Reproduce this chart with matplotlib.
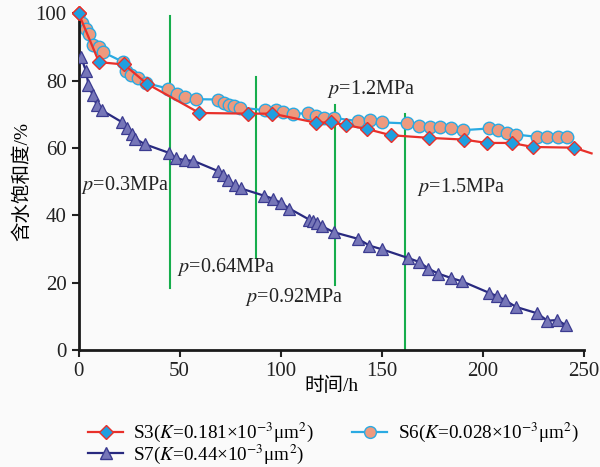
import matplotlib
matplotlib.use("Agg")
import matplotlib.pyplot as plt
from matplotlib.lines import Line2D

plt.rcParams["font.family"] = ["Liberation Serif", "Noto Sans CJK SC"]
plt.rcParams["mathtext.fontset"] = "stix"

# ── data ────────────────────────────────────────────────────────────────────
s3_t = [0, 10.1, 22.5, 33.8, 59.8, 84.1, 96.0, 117.6, 124.8, 132.4, 143.0,
        154.6, 173.7, 190.8, 202.0, 214.4, 224.9, 245.3, 254.0]
s3_sw = [100, 85.5, 84.8, 79.1, 70.4, 70.2, 70.2, 67.5, 67.6, 66.8, 65.6,
         63.8, 63.0, 62.5, 61.5, 61.5, 60.3, 60.1, 58.4]

s6_t = [0, 1.6, 3.7, 5.3, 7.0, 10.3, 12.0, 22.2, 23.5, 26.0, 29.3, 33.4,
        44.5, 48.6, 52.7, 58.2, 69.2, 72.0, 74.7, 77.1, 80.0, 92.5, 97.8,
        101.4, 106.0, 113.8, 117.6, 121.7, 126.5, 138.5, 144.3, 150.3,
        162.5, 168.5, 174.0, 178.8, 184.5, 190.5, 203.4, 207.8, 212.0,
        216.6, 227.1, 232.1, 237.5, 241.7]
s6_sw = [100, 97.1, 95.2, 94.0, 90.7, 90.0, 88.5, 85.5, 82.9, 81.6, 80.9,
         79.3, 77.6, 75.9, 75.2, 74.5, 74.4, 73.4, 72.9, 72.4, 72.0, 71.2,
         71.4, 70.7, 70.2, 70.3, 69.6, 68.9, 68.9, 68.0, 68.2, 67.6, 67.3,
         66.6, 66.3, 66.3, 65.8, 65.3, 65.8, 65.3, 64.6, 64.0, 63.3, 63.3,
         63.3, 63.3]

s7_t = [1.2, 3.7, 4.9, 7.0, 9.0, 11.5, 21.4, 23.9, 26.3, 28.0, 32.9, 45.0,
        48.3, 52.7, 56.8, 68.8, 71.4, 74.2, 77.5, 80.3, 92.0, 96.4, 100.1,
        104.4, 114.3, 116.1, 118.1, 120.4, 126.3, 138.5, 144.0, 150.3,
        163.3, 168.4, 173.2, 178.0, 184.4, 189.9, 203.2, 207.3, 211.1,
        216.6, 227.1, 232.1, 237.0, 241.2]
s7_sw = [87.0, 82.8, 78.6, 75.7, 72.7, 71.2, 67.7, 65.8, 64.3, 62.8, 61.1,
         58.5, 56.9, 56.4, 56.2, 53.2, 51.9, 50.5, 48.9, 48.0, 45.8, 44.9,
         43.7, 42.0, 38.7, 38.2, 37.6, 36.8, 35.0, 33.0, 31.0, 29.9, 27.3,
         26.2, 24.2, 22.7, 21.4, 20.4, 17.0, 16.0, 14.8, 12.8, 10.9, 8.7,
         8.9, 7.4]

# pressure steps: time, line bottom, line top
p_time = [45.3, 87.7, 127.0, 161.6]
p_low = [18.3, 27.3, 19.3, 0]
p_high = [99.1, 81.0, 72.9, 70.2]

p_labels = ["$p$=0.3MPa", "$p$=0.64MPa", "$p$=0.92MPa", "$p$=1.2MPa", "$p$=1.5MPa"]
p_label_x = [1.2, 48.6, 82.4, 122.9, 167.4]
p_label_y = [49.0, 24.6, 15.7, 77.4, 48.5]

legend_s3 = "S3($K$=0.181×10$^{-3}$μm$^{2}$)"
legend_s6 = "S6($K$=0.028×10$^{-3}$μm$^{2}$)"
legend_s7 = "S7($K$=0.44×10$^{-3}$μm$^{2}$)"

BG = "#fafafa"
RED, DIA = "#e8302a", "#1f9fe0"
BLUE, SALMON = "#2aaae2", "#ee9a7e"
NAVY, PURPLE = "#28297f", "#7676b8"
GREEN = "#16ad4c"

fig = plt.figure(figsize=(6.0, 4.67), dpi=100, facecolor=BG)
ax = fig.add_axes([0.131, 0.2505, 0.8415, 0.721], facecolor=BG)

for t, lo, hi in zip(p_time, p_low, p_high):
    ax.plot([t, t], [lo, hi], color=GREEN, linewidth=1.5, zorder=1)

ax.plot(s7_t, s7_sw, color=NAVY, linewidth=1.6, marker="^", markersize=8.5,
        markerfacecolor=PURPLE, markeredgecolor="#3b3b90", markeredgewidth=0.9,
        zorder=3)
ax.plot(s3_t, s3_sw, color=RED, linewidth=1.6, marker="D", markersize=7.5,
        markerfacecolor=DIA, markeredgecolor=RED, markeredgewidth=1.0,
        markevery=list(range(len(s3_t) - 1)), clip_on=False, zorder=3)
ax.plot(s6_t, s6_sw, color=BLUE, linewidth=1.6, marker="o", markersize=9,
        markerfacecolor=SALMON, markeredgecolor=BLUE, markeredgewidth=1.0,
        zorder=2)
# redraw first diamond on top of the circles
ax.plot(s3_t[:1], s3_sw[:1], linestyle="none", marker="D", markersize=7.5,
        markerfacecolor=DIA, markeredgecolor=RED, clip_on=False, zorder=4)

for lab, x, y in zip(p_labels, p_label_x, p_label_y):
    ax.text(x, y, lab, fontsize=14.5, ha="left", va="center", color="#222222")

ax.set_xlim(0, 250)
ax.set_ylim(0, 100)
ax.set_xticks([0, 50, 100, 150, 200, 250])
ax.set_yticks([0, 20, 40, 60, 80, 100])
ax.tick_params(direction="out", length=5, width=1.5, labelsize=15,
               colors="#222222")
for s in ["top", "right"]:
    ax.spines[s].set_visible(False)
for s in ["left", "bottom"]:
    ax.spines[s].set_linewidth(2)
    ax.spines[s].set_color("#1a1a1a")

ax.set_xlabel("时间/h", fontsize=14)
ax.set_ylabel("含水饱和度/%", fontsize=14)
ax.xaxis.set_label_coords(0.5, -0.078)
ax.yaxis.set_label_coords(-0.094, 0.5)

handles = [
    Line2D([], [], color=RED, linewidth=1.6, marker="D", markersize=7.5,
           markerfacecolor=DIA, markeredgecolor=RED),
    Line2D([], [], color=NAVY, linewidth=1.6, marker="^", markersize=8.5,
           markerfacecolor=PURPLE, markeredgecolor="#3b3b90"),
    Line2D([], [], color=BLUE, linewidth=1.6, marker="o", markersize=8.5,
           markerfacecolor=SALMON, markeredgecolor=BLUE),
]
fig.legend(handles, [legend_s3, legend_s7, legend_s6], loc="lower left",
           bbox_to_anchor=(0.125, -0.027), ncol=2, frameon=False, fontsize=13.8,
           handlelength=1.8, columnspacing=2.0, labelspacing=-0.08,
           handletextpad=0.55, borderpad=0.2)

fig.savefig("out.png", dpi=100, facecolor=BG)
